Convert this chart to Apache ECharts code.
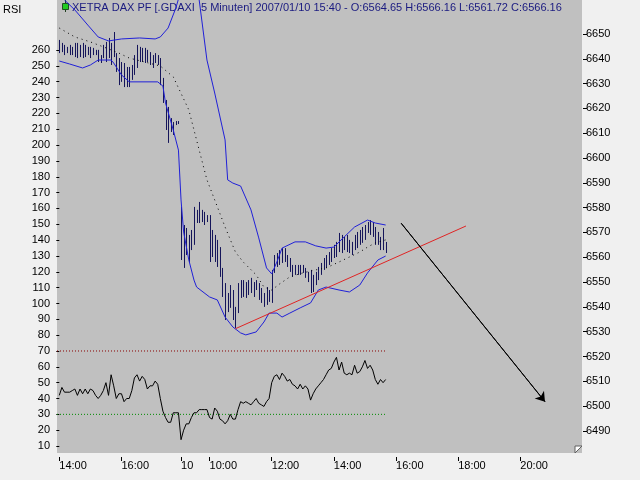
<!DOCTYPE html>
<html><head><meta charset="utf-8">
<script src="https://cdn.jsdelivr.net/npm/echarts@6/dist/echarts.min.js"></script>
<style>html,body{margin:0;padding:0;background:#f0f0f0}#c{width:640px;height:480px}</style>
</head><body><div id="c"></div><script>
// time axis: index of 5-minute bars, 0 = 2007/01/09 14:00
const tickIndex = [0, 24, 47, 58, 82, 106, 130, 154, 178];
const tickLabels = ['14:00', '16:00', '10', '10:00', '12:00', '14:00', '16:00', '18:00', '20:00'];
const rsiTicks = [10,20,30,40,50,60,70,80,90,100,110,120,130,140,150,160,170,180,190,200,210,220,230,240,250,260];
const priceTicks = [6490,6500,6510,6520,6530,6540,6550,6560,6570,6580,6590,6600,6610,6620,6630,6640,6650];
const titleText = 'XETRA DAX PF [.GDAXI  5 Minuten] 2007/01/10 15:40 - O:6564.65 H:6566.16 L:6561.72 C:6566.16';

const barHigh = [
6647.6,6646.4,6645.6,6644.8,6645.6,6644.8,6646.4,6646.4,6645.6,6646.4,
6645.6,6644.8,6644.8,6644.4,6643.6,6643.6,6641.5,6645.6,6646.8,6648.4,
6646.4,6650.8,6642.3,6640.3,6638.7,6638.3,6636.7,6636.7,6637.5,6641.5,
6645.6,6644.8,6644.4,6644.4,6643.6,6642.7,6641.5,6642.3,6641.5,6640.3,
6632.3,6623.4,6620.6,6616.1,6614.5,6614.9,6614.9,6580.3,6573.0,6571.8,
6569.0,6571.0,6580.3,6579.1,6582.3,6579.1,6578.3,6577.0,6577.0,6571.0,
6569.0,6567.0,6564.1,6555.7,6549.6,6545.6,6548.8,6546.8,6540.0,6549.6,
6550.8,6550.8,6550.0,6550.8,6551.7,6550.0,6550.8,6549.6,6547.6,6545.6,
6548.0,6546.8,6554.9,6560.9,6561.7,6562.9,6563.7,6563.7,6560.9,6559.7,
6556.9,6556.9,6556.9,6556.9,6556.9,6555.7,6554.1,6554.9,6552.9,6554.1,
6556.1,6557.7,6559.7,6560.9,6562.1,6563.7,6565.0,6566.2,6569.8,6569.0,
6568.2,6569.0,6567.0,6566.2,6569.0,6570.2,6571.0,6572.2,6573.0,6574.2,
6575.0,6574.2,6572.2,6570.2,6568.2,6571.8,6566.16];
const barLow = [
6642.3,6642.7,6641.5,6642.3,6641.5,6641.5,6640.7,6640.3,6640.7,6640.3,
6640.7,6641.5,6640.3,6641.5,6641.5,6638.7,6638.3,6640.3,6638.7,6640.3,
6637.5,6640.7,6634.7,6629.4,6630.7,6628.6,6628.6,6628.6,6631.5,6633.5,
6636.3,6638.7,6638.7,6638.3,6638.7,6637.5,6636.3,6638.3,6637.5,6629.4,
6622.2,6611.3,6606.1,6610.5,6609.3,6613.3,6613.7,6558.9,6555.7,6560.9,
6557.7,6562.9,6565.0,6573.8,6573.8,6574.2,6573.0,6574.2,6558.1,6560.1,
6558.1,6556.1,6552.1,6544.0,6534.7,6537.9,6539.6,6534.7,6531.5,6537.5,
6543.6,6544.0,6543.6,6544.8,6545.6,6544.0,6546.8,6542.8,6541.6,6540.0,
6540.8,6542.0,6541.6,6553.7,6556.1,6556.9,6557.7,6558.1,6556.1,6554.1,
6552.1,6552.9,6552.9,6552.9,6553.7,6551.7,6550.0,6545.6,6546.0,6548.8,
6550.8,6552.9,6554.9,6555.7,6556.9,6558.1,6559.7,6560.1,6562.1,6561.7,
6562.9,6562.1,6561.7,6560.9,6562.9,6563.7,6565.0,6565.8,6567.0,6569.8,
6569.0,6568.2,6565.0,6565.0,6562.9,6562.9,6561.72];
const rsi = [
42,47,44,44,44,45,46,42,46,43,
46,43,46,45,42,40,42,45,50,42,
55,48,40,43,43,38,40,40,45,53,
55,51,54,52,46,48,48,51,49,40,
32,28,25,25,31,31,31,14,20,24,
24,28,31,31,33,33,33,33,28,27,
34,32,27,26,24,26,30,27,27,33,
38,37,38,37,36,38,40,37,36,35,
38,40,50,54,55,52,56,54,51,52,
49,48,46,49,46,48,46,39,43,46,
48,50,52,55,58,59,63,66,58,63,
56,55,56,55,61,56,57,60,64,59,
61,58,52,49,52,50,52];
const rsiLevels = [70, 30];
const upperBand = [[0,6668.5],[2,6663.7],[6,6659.7],[11,6653.6],[15,6648.8],[19,6647.2],[24,6648.0],[31,6648.4],[37,6648.0],[39,6648.8],[42,6652.4],[45,6660.5],[47,6667.7],[50,6673.8],[53,6668.5],[54,6663.7],[57,6639.5],[60,6626.2],[64,6607.3],[65,6591.2],[67,6589.9],[70,6588.7],[74,6579.1],[77,6567.8],[80,6555.7],[82,6553.3],[84,6558.1],[86,6563.7],[91,6566.2],[95,6566.2],[99,6564.6],[103,6563.7],[106,6564.1],[110,6568.2],[114,6572.2],[119,6575.0],[122,6573.8],[126,6573.0]];
const lowerBand = [[0,6639.1],[4,6637.9],[9,6636.3],[12,6637.5],[15,6639.5],[20,6639.5],[21,6638.3],[24,6633.5],[27,6630.7],[38,6630.7],[40,6629.0],[41,6622.2],[44,6611.3],[46,6603.2],[47,6583.1],[48,6570.2],[50,6558.9],[52,6550.8],[53,6548.0],[58,6544.0],[61,6542.8],[64,6535.9],[67,6531.9],[70,6529.5],[72,6528.7],[76,6529.9],[79,6533.9],[81,6537.5],[84,6537.5],[86,6535.9],[89,6537.5],[93,6539.6],[97,6541.6],[100,6546.8],[103,6548.0],[108,6546.8],[112,6546.0],[116,6548.8],[119,6553.7],[123,6558.9],[126,6560.5]];
const midBand = [[0,6652.4],[6,6648.8],[12,6646.8],[18,6644.4],[23,6642.3],[27,6640.3],[33,6638.7],[39,6637.1],[44,6632.7],[50,6619.4],[54,6603.2],[57,6591.2],[60,6583.1],[64,6572.2],[68,6562.1],[71,6558.1],[76,6552.9],[79,6548.0],[82,6546.8],[85,6549.2],[89,6552.1],[94,6553.7],[99,6554.9],[103,6555.7],[108,6558.1],[112,6560.1],[116,6562.1],[119,6564.1],[122,6565.8],[126,6567.0]];
const trendLine = [[68,6531.2],[157,6572.6]];
const trendValue = [126, 6558.2621];
const arrowLine = [[132,6573.7],[187.5,6501.8]];

const X_MIN = -0.89, X_MAX = 201.8;
const lastIdx = rsi.length - 1;
const FONT = 'Liberation Sans';

const chart = echarts.init(document.getElementById('c'));
const bars = barHigh.map((h, i) => [i, barLow[i], h]);

chart.setOption({
  animation: false,
  backgroundColor: '#f0f0f0',
  textStyle: {fontFamily: FONT},
  grid: {left: 57, right: 58, top: 0, bottom: 27, show: true, backgroundColor: '#c0c0c0', borderWidth: 0},
  xAxis: {
    type: 'value', min: X_MIN, max: X_MAX, offset: 4,
    axisLine: {show: false}, splitLine: {show: false},
    axisTick: {show: true, customValues: tickIndex, length: 4, lineStyle: {color: '#000'}},
    axisLabel: {customValues: tickIndex, margin: 3, align: 'left', color: '#000', fontSize: 11, fontFamily: FONT,
      formatter: v => tickLabels[tickIndex.indexOf(v)]}
  },
  yAxis: [{
    type: 'value', position: 'left', min: 5.6, max: 291.6, offset: 6,
    axisLine: {show: false}, splitLine: {show: false},
    axisTick: {show: true, customValues: rsiTicks, length: 3, lineStyle: {color: '#000'}},
    axisLabel: {customValues: rsiTicks, margin: 1, color: '#000', fontSize: 11, fontFamily: FONT, formatter: v => String(v)}
  }, {
    type: 'value', position: 'right', min: 6481.1, max: 6663.7, offset: 1,
    axisLine: {show: false}, splitLine: {show: false},
    axisTick: {show: true, customValues: priceTicks, length: 4, lineStyle: {color: '#000'}},
    axisLabel: {customValues: priceTicks, margin: 3, color: '#000', fontSize: 11, fontFamily: FONT, formatter: v => String(v)}
  }],
  graphic: [
    {type: 'text', left: 3, top: 4, style: {text: 'RSI', fill: '#000', font: '11px "Liberation Sans"'}},
    {type: 'line', shape: {x1: 65.5, y1: 0, x2: 65.5, y2: 12}, style: {stroke: '#204020', lineWidth: 1}},
    {type: 'rect', shape: {x: 62.5, y: 3.5, width: 6, height: 6}, style: {fill: '#22cc22', stroke: '#205020', lineWidth: 1}},
    {type: 'text', left: 72, top: 2, style: {text: titleText, fill: '#1a1a80', font: '11px "Liberation Sans"'}},
    {type: 'polygon', shape: {points: [[575, 446], [582, 446], [575, 453]]}, style: {fill: '#ffffff', stroke: '#606060', lineWidth: 1}}
  ],
  series: [
    ...rsiLevels.map((lv, k) => ({
      type: 'line', yAxisIndex: 0, symbol: 'none', silent: true,
      data: [[X_MIN, lv], [lastIdx, lv]],
      lineStyle: {color: k === 0 ? '#8a0000' : '#008a00', width: 1, type: [1, 2]}
    })),
    {type: 'line', yAxisIndex: 0, symbol: 'none', silent: true,
     data: rsi.map((v, i) => [i, v]), lineStyle: {color: '#000', width: 1}},
    {type: 'custom', yAxisIndex: 1, silent: true, data: bars,
     encode: {x: 0, y: [1, 2]},
     renderItem: (params, api) => {
       const x = api.value(0);
       const p1 = api.coord([x, api.value(1)]);
       const p2 = api.coord([x, api.value(2)]);
       const px = Math.round(p1[0]) + 0.5;
       return {type: 'line', shape: {x1: px, y1: p1[1], x2: px, y2: p2[1]}, style: {stroke: '#15155a', lineWidth: 1}};
     }},
    {type: 'line', yAxisIndex: 1, symbol: 'none', silent: true, data: upperBand, lineStyle: {color: '#2020d8', width: 1}},
    {type: 'line', yAxisIndex: 1, symbol: 'none', silent: true, data: lowerBand, lineStyle: {color: '#2020d8', width: 1}},
    {type: 'line', yAxisIndex: 1, symbol: 'none', silent: true, data: midBand, lineStyle: {color: '#000', width: 1, type: [1, 4]}},
    {type: 'line', yAxisIndex: 1, symbol: 'none', silent: true, data: trendLine, lineStyle: {color: '#e02424', width: 1}},
    {type: 'scatter', yAxisIndex: 1, silent: true, symbolSize: 1, itemStyle: {opacity: 0},
     data: [trendValue],
     label: {show: true, position: [0, -1], formatter: p => p.value[1].toFixed(4), color: '#e02424', fontSize: 11, fontFamily: FONT}},
    {type: 'line', yAxisIndex: 1, symbol: 'none', silent: true, data: arrowLine, lineStyle: {color: '#000', width: 1},
     markLine: {silent: true, symbol: ['none', 'arrow'], symbolSize: 9, label: {show: false},
       lineStyle: {color: '#000', width: 1, type: 'solid'},
       data: [[{coord: arrowLine[0]}, {coord: arrowLine[1]}]]}}
  ]
});
</script></body></html>
